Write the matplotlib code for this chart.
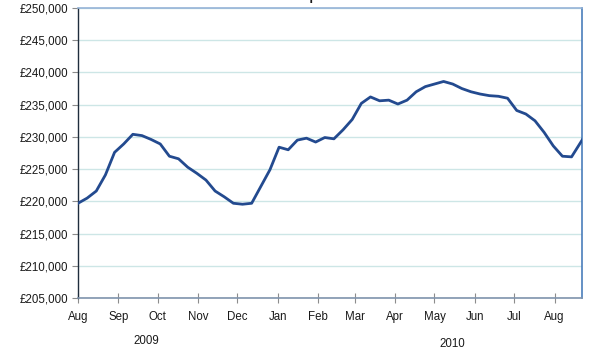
import matplotlib
matplotlib.use("Agg")
import matplotlib.pyplot as plt
import matplotlib.dates as mdates
from matplotlib.ticker import FuncFormatter, FixedLocator
import datetime as dt

start_date = "2009-08-01"
n_weeks = 56
prices = [219700, 220500, 221600, 224100, 227600, 228900, 230400, 230200,
          229600, 228900, 227000, 226600, 225300, 224350, 223300, 221600,
          220700, 219700, 219550, 219700, 222300, 224900, 228400, 228000,
          229500, 229800, 229200, 229900, 229700, 231100, 232700, 235200,
          236200, 235600, 235700, 235100, 235700, 237000, 237800, 238200,
          238600, 238200, 237500, 237000, 236650, 236400, 236300, 236000,
          234100, 233550, 232500, 230700, 228600, 227000, 226900, 229800]
month_labels = ["Aug", "Sep", "Oct", "Nov", "Dec", "Jan", "Feb", "Mar",
                "Apr", "May", "Jun", "Jul", "Aug"]
year_labels = ["2009", "2010"]
y_ticks = list(range(205000, 250001, 5000))

d0 = dt.date.fromisoformat(start_date)
dates = [d0 + dt.timedelta(days=7 * i) for i in range(n_weeks)]
dates[-1] = dates[-1] + dt.timedelta(days=2)
month_starts = [dt.date(2009 + (7 + i) // 12, (7 + i) % 12 + 1, 1) for i in range(len(month_labels))]

fig = plt.figure(figsize=(6.09, 3.53), dpi=100)
ax = fig.add_axes([78 / 609, 55 / 353, 504 / 609, 290 / 353])

ax.plot(dates, prices, color="#234A8F", lw=2.0, solid_joinstyle="round", zorder=3)

ax.set_ylim(205000, 250000)
ax.set_xlim(d0, dt.date(2010, 8, 22))
ax.set_yticks(y_ticks)
ax.yaxis.set_major_formatter(FuncFormatter(lambda v, p: "£{:,.0f}".format(v)))
ax.grid(axis="y", color="#CDE6E6", lw=1.0)
ax.set_axisbelow(True)

ax.xaxis.set_major_locator(FixedLocator(mdates.date2num(month_starts)))
ax.set_xticklabels(month_labels)

ax.tick_params(axis="y", direction="out", length=4, color="#8C8C8C", width=0.8,
               labelsize=8.3, labelcolor="#1a1a1a", pad=3)
ax.tick_params(axis="x", direction="inout", length=7, color="#8C8C8C", width=0.8,
               labelsize=8.3, labelcolor="#1a1a1a", pad=6)

for lab in ax.get_xticklabels() + ax.get_yticklabels():
    lab.set_family(["Liberation Sans", "DejaVu Sans"])

ax.spines["left"].set_color("#1F2D3D")
ax.spines["left"].set_linewidth(1.0)
ax.spines["bottom"].set_color("#7F93AD")
ax.spines["bottom"].set_linewidth(1.2)
ax.spines["top"].set_color("#95B3D7")
ax.spines["top"].set_linewidth(1.2)
ax.spines["right"].set_color("#4A7EBB")
ax.spines["right"].set_linewidth(1.2)

fig.text(146 / 609, 1 - 341 / 353, year_labels[0], ha="center", va="center",
         fontsize=8.3, family=["Liberation Sans", "DejaVu Sans"], color="#1a1a1a")
fig.text(452 / 609, 1 - 344 / 353, year_labels[1], ha="center", va="center",
         fontsize=8.3, family=["Liberation Sans", "DejaVu Sans"], color="#1a1a1a")

# cut-off title remnant at top (as in the reference)
fig.text(314 / 609, 1 + 1 / 353, "p", ha="center", va="baseline",
         fontsize=14, family=["Liberation Sans", "DejaVu Sans"], color="#1a1a1a")

fig.savefig("out.png", dpi=100)
